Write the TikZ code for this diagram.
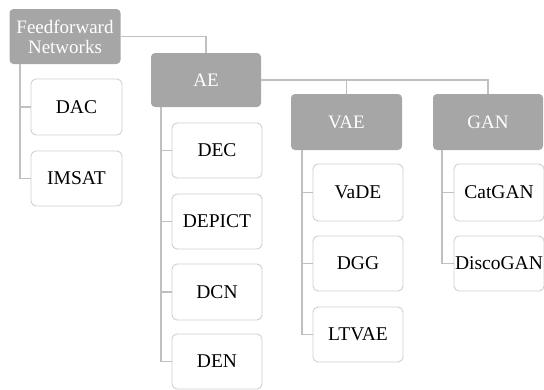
\documentclass[tikz,border=0pt]{standalone}
\usepackage{fontspec}
\setmainfont{Liberation Serif}
\newfontfamily\tms{Liberation Serif}
\definecolor{boxgray}{HTML}{A6A6A6}
\definecolor{linegray}{HTML}{C0C0C0}
\definecolor{bordergray}{HTML}{CFCFCF}
\begin{document}
\begin{tikzpicture}[x=1pt,y=-1pt,
  catbox/.style={rectangle,rounded corners=4pt,fill=boxgray,draw=none,text=white,
    minimum width=111pt,minimum height=55pt,inner sep=0pt,align=center,
    font=\tms\fontsize{19}{20}\selectfont},
  leafbox/.style={rectangle,rounded corners=5pt,fill=white,draw=bordergray,line width=0.9pt,
    minimum width=90pt,minimum height=55pt,inner sep=0pt,
    font=\tms\fontsize{19.5}{20}\selectfont},
  conn/.style={draw=linegray,line width=1.8pt}]
\useasboundingbox (0,0) rectangle (544,389);
\node[catbox] (FF) at (65,36.5) {Feedforward\\Networks};
\node[catbox,minimum width=110pt,minimum height=54pt] (AE) at (206,80) {AE};
\node[catbox,minimum height=56pt] (VAE) at (346.5,122) {VAE};
\node[catbox,minimum width=110pt,minimum height=56pt] (GAN) at (488,122) {GAN};
\node[leafbox,minimum width=91pt,minimum height=56pt] (DAC) at (76.5,107) {DAC};
\node[leafbox,minimum width=91pt] (IMSAT) at (76.5,178.5) {IMSAT};
\node[leafbox] (DEC) at (217,150.5) {DEC};
\node[leafbox] (DEPICT) at (217,221.5) {DEPICT};
\node[leafbox,minimum height=56pt] (DCN) at (217,292) {DCN};
\node[leafbox] (DEN) at (217,361.5) {DEN};
\node[leafbox,minimum height=57pt] (VaDE) at (358,192.5) {VaDE};
\node[leafbox] (DGG) at (358,263.5) {DGG};
\node[leafbox] (LTVAE) at (358,334.5) {LTVAE};
\node[leafbox,minimum height=57pt] (CatGAN) at (499,192.5) {CatGAN};
\node[leafbox] (DiscoGAN) at (499,263.5) {DiscoGAN};
\draw[conn] (FF.east) -| (AE.north);
\draw[conn] (AE.east) -| (VAE.north);
\draw[conn] (AE.east) -| (GAN.north);
\coordinate (ffx) at ([xshift=11pt]FF.south west);
\coordinate (aex) at ([xshift=10pt]AE.south west);
\coordinate (vaex) at ([xshift=11pt]VAE.south west);
\coordinate (ganx) at ([xshift=9pt]GAN.south west);
\draw[conn] (ffx) |- (DAC.west);
\draw[conn] (ffx) |- (IMSAT.west);
\draw[conn] (aex) |- (DEC.west);
\draw[conn] (aex) |- (DEPICT.west);
\draw[conn] (aex) |- (DCN.west);
\draw[conn] (aex) |- (DEN.west);
\draw[conn] (vaex) |- (VaDE.west);
\draw[conn] (vaex) |- (DGG.west);
\draw[conn] (vaex) |- (LTVAE.west);
\draw[conn] (ganx) |- (CatGAN.west);
\draw[conn] (ganx) |- (DiscoGAN.west);
\end{tikzpicture}
\end{document}
